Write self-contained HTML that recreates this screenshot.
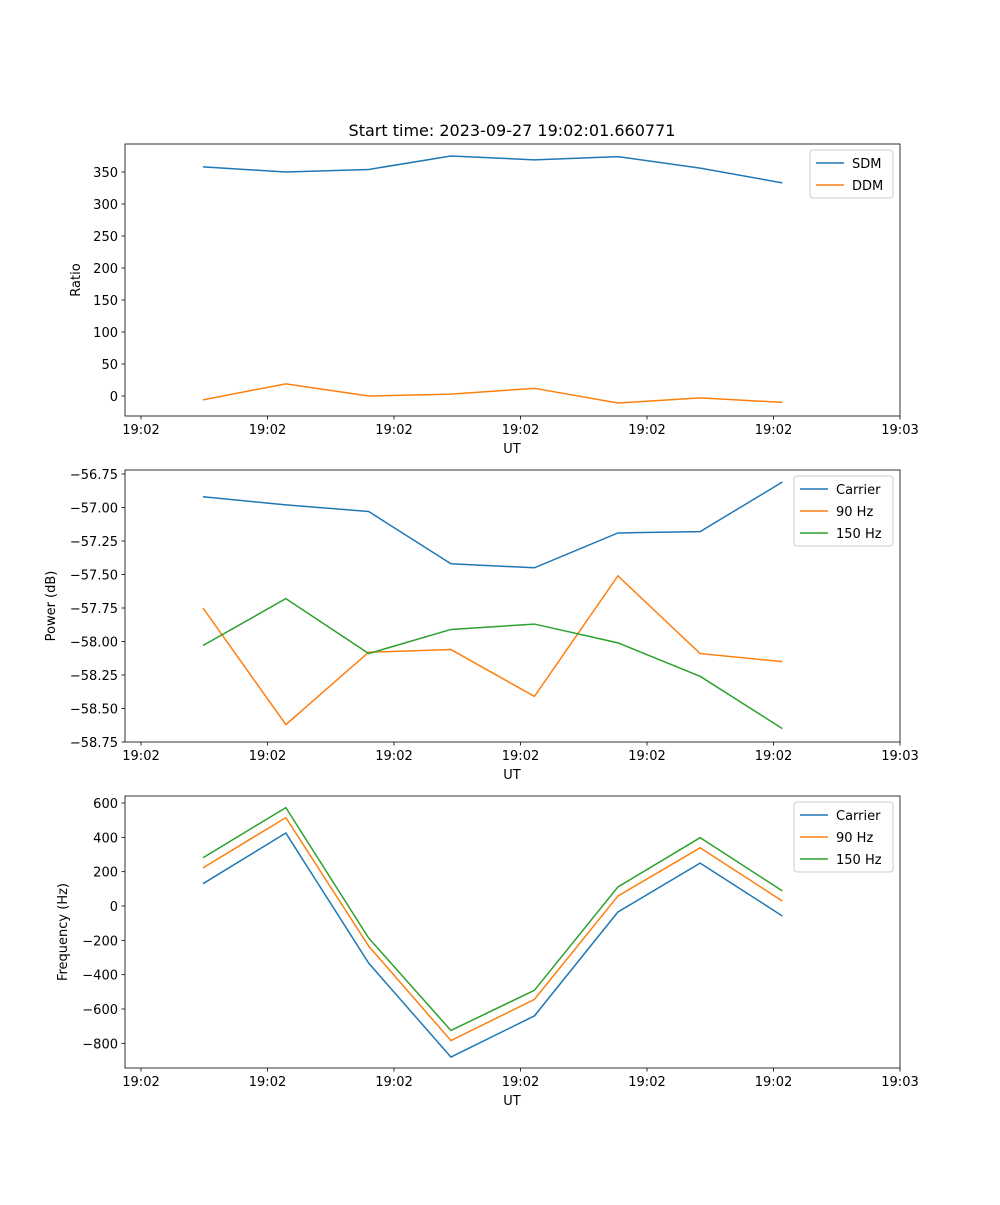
<!DOCTYPE html>
<html><head><meta charset="utf-8"><style>
body{margin:0;background:#fff}
svg text{font-family:"DejaVu Sans","Liberation Sans",sans-serif;font-size:13px;fill:#000}
</style></head><body>
<svg id="fig" width="1000" height="1200" xmlns="http://www.w3.org/2000/svg">
<rect width="1000" height="1200" fill="#fff"/>
<text x="512" y="136" text-anchor="middle" style="font-size:16px">Start time: 2023-09-27 19:02:01.660771</text>
</svg>
<script>
const times=[4.9,11.45,18.0,24.5,31.1,37.7,44.2,50.7];
const xTickVals=[0,10,20,30,40,50,60];
const xTickLabels=["19:02","19:02","19:02","19:02","19:02","19:02","19:03"];
const sdm=[358,350,354,375,369,374,356,333];
const ddm=[-6,19,0,3,12,-11,-3,-10];
const pCarrier=[-56.92,-56.98,-57.03,-57.42,-57.45,-57.19,-57.18,-56.81];
const p90=[-57.75,-58.62,-58.08,-58.06,-58.41,-57.51,-58.09,-58.15];
const p150=[-58.03,-57.68,-58.09,-57.91,-57.87,-58.01,-58.26,-58.65];
const fCarrier=[130,425,-333,-880,-640,-35,250,-58];
const f90=[222,515,-234,-784,-544,58,339,29];
const f150=[281,573,-187,-725,-491,111,398,88];
const y1Ticks=[0,50,100,150,200,250,300,350];
const y2Ticks=[-58.75,-58.5,-58.25,-58,-57.75,-57.5,-57.25,-57,-56.75];
const y3Ticks=[-800,-600,-400,-200,0,200,400,600];
const C=["#1f77b4","#ff7f0e","#2ca02c"];
const NS="http://www.w3.org/2000/svg";
const svg=document.getElementById("fig");
function mk(tag,attrs,parent){const e=document.createElementNS(NS,tag);for(const k in attrs)e.setAttribute(k,attrs[k]);(parent||svg).appendChild(e);return e;}
const L=125,R=900;
const xs=t=>141+t*(900-141)/60;
function panel(idx,top,bottom,yr,yTicks,fmt,ylabel,series,names,leg){
  const g=mk("g",{});
  
  
  const ys=v=>yr[2]+(v-yr[0])*(yr[3]-yr[2])/(yr[1]-yr[0]);
  series.forEach((s,i)=>{
    const p=mk("polyline",{points:s.map((v,j)=>xs(times[j])+","+ys(v)).join(" "),fill:"none",stroke:C[i],"stroke-width":1.5},g);
    
    
  });
  const fr=mk("rect",{x:L,y:top,width:R-L,height:bottom-top,fill:"none",stroke:"#000","stroke-width":0.8},g);
  
  
  xTickVals.forEach((t,i)=>{const x=xs(t);
    mk("line",{x1:x,x2:x,y1:bottom,y2:bottom+3.5,stroke:"#000","stroke-width":0.8},g);
    const tx=mk("text",{x:x,y:bottom+18,"text-anchor":"middle"},g);tx.textContent=xTickLabels[i];
    
    });
  yTicks.forEach(v=>{const y=ys(v);
    mk("line",{x1:L-3.5,x2:L,y1:y,y2:y,stroke:"#000","stroke-width":0.8},g);
    const tx=mk("text",{x:L-7,y:y+5,"text-anchor":"end"},g);tx.textContent=fmt(v);
    
    });
  const xl=mk("text",{x:512,y:bottom+37,"text-anchor":"middle"},g);xl.textContent="UT";
  
  
  const cy=(top+bottom)/2;
  const yl=mk("text",{x:leg.yl,y:cy,"text-anchor":"middle",transform:`rotate(-90 ${leg.yl} ${cy})`},g);yl.textContent=ylabel;
  
  
  const lg=mk("g",{},g);
  
  
  mk("rect",{x:leg.x,y:top+6,width:leg.w,height:names.length*22+4,rx:3,fill:"#fff",stroke:"#ccc","stroke-width":1},lg);
  names.forEach((n,i)=>{const y=top+19+i*22;
    mk("line",{x1:leg.x+6,x2:leg.x+34,y1:y,y2:y,stroke:C[i],"stroke-width":1.5},lg);
    const t=mk("text",{x:leg.x+42,y:y+5},lg);t.textContent=n;
    
    });
}
panel(1,144,416,[0,350,396,172],y1Ticks,v=>String(v),"Ratio",[sdm,ddm],["SDM","DDM"],{x:810,w:83,yl:80});
panel(2,470,742,[-56.75,-58.75,474,742],y2Ticks,v=>"\u2212"+Math.abs(v).toFixed(2),"Power (dB)",[pCarrier,p90,p150],["Carrier","90 Hz","150 Hz"],{x:794,w:99,yl:55});
panel(3,796,1068,[0,600,906,803],y3Ticks,v=>(v<0?"\u2212":"")+Math.abs(v),"Frequency (Hz)",[fCarrier,f90,f150],["Carrier","90 Hz","150 Hz"],{x:794,w:99,yl:67});
</script>
</body></html>
